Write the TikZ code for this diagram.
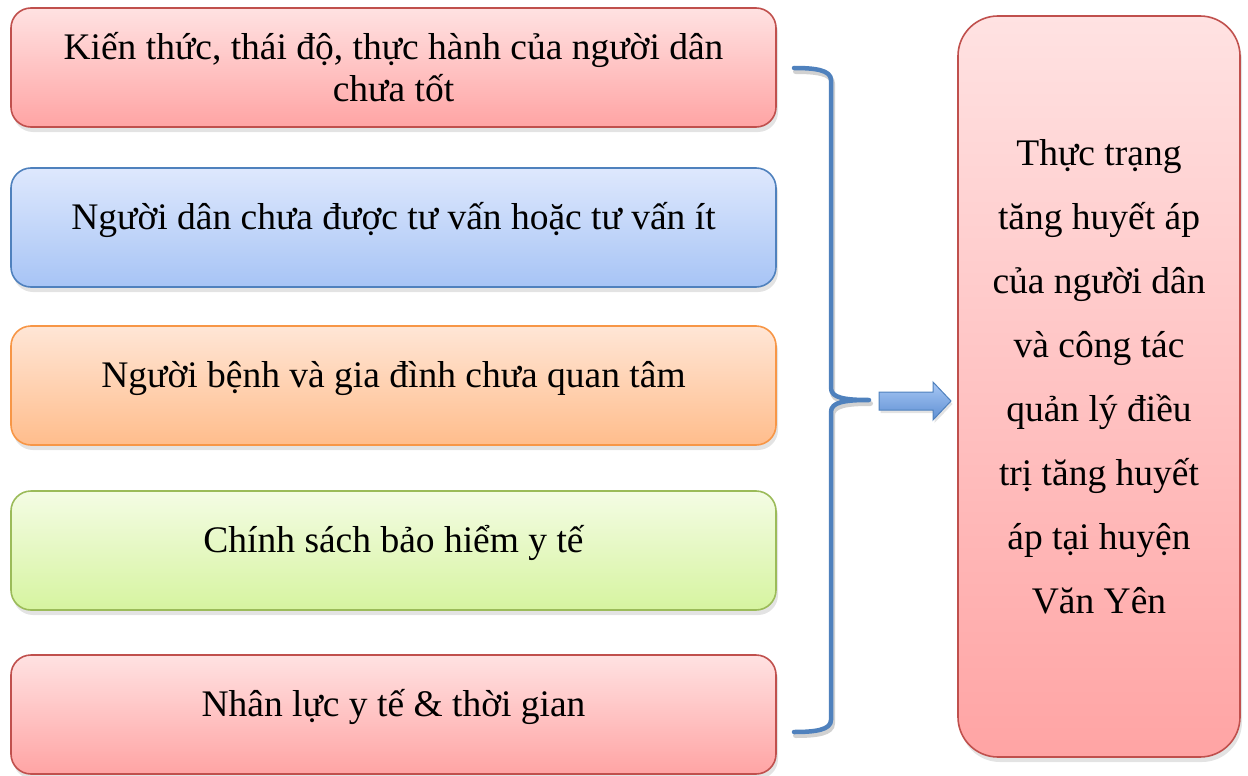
\documentclass[tikz,border=0pt]{standalone}
\usepackage{fontspec}
\setmainfont{Liberation Serif}
\usetikzlibrary{shadows}
\definecolor{redB}{HTML}{C0504D}
\definecolor{redT}{HTML}{FFE2E2}
\definecolor{redM}{HTML}{FFA4A4}
\definecolor{bluB}{HTML}{4F81BD}
\definecolor{bluT}{HTML}{DEE8FD}
\definecolor{bluM}{HTML}{A7C4F5}
\definecolor{oraB}{HTML}{F79646}
\definecolor{oraT}{HTML}{FFE6D6}
\definecolor{oraM}{HTML}{FFBD8C}
\definecolor{greB}{HTML}{9BBB59}
\definecolor{greT}{HTML}{F4FCE4}
\definecolor{greM}{HTML}{D6F4A0}
\definecolor{braceC}{HTML}{4F81BD}
\definecolor{arrT}{HTML}{A9C8F5}
\definecolor{arrB}{HTML}{5E8FD3}
\tikzset{
  x=1pt, y=-1pt,
  lbox/.style={rectangle, rounded corners=20pt, line width=1.6pt,
    minimum width=765pt, minimum height=119pt, align=center,
    font=\fontsize{37.5}{42}\selectfont, text=black,
    drop shadow={opacity=0.22, shadow xshift=2pt, shadow yshift=-5pt}},
  oneline/.style={text height=27pt, text depth=23pt},
  redbox/.style={lbox, draw=redB, top color=redT, bottom color=redM},
  bluebox/.style={lbox, draw=bluB, top color=bluT, bottom color=bluM},
  orabox/.style={lbox, draw=oraB, top color=oraT, bottom color=oraM},
  grebox/.style={lbox, draw=greB, top color=greT, bottom color=greM},
  rbox/.style={rectangle, rounded corners=40pt, line width=1.6pt, draw=redB,
    top color=redT, bottom color=redM,
    minimum width=282pt, minimum height=741pt,
    drop shadow={opacity=0.22, shadow xshift=2pt, shadow yshift=-5pt}},
  rtext/.style={align=center, font=\fontsize{37.5}{64}\selectfont, text=black},
  bracestyle/.style={draw=braceC, line width=4.5pt, line cap=round, line join=round},
  braceshadow/.style={draw=black, opacity=0.18, line width=5pt, line cap=round, line join=round},
  arrowshape/.style={draw=bluB, line width=1pt, top color=arrT, bottom color=arrB,
    drop shadow={opacity=0.22, shadow xshift=1.5pt, shadow yshift=-3pt}}
}
\def\bracepath{(794,68) .. controls (815,68) and (831,70) .. (831,80) -- (831,388)
  .. controls (831,398) and (845,400) .. (869,400)
  .. controls (845,400) and (831,402) .. (831,412) -- (831,720)
  .. controls (831,730) and (815,732) .. (794,732)}
\begin{document}
\begin{tikzpicture}
\useasboundingbox (0,0) rectangle (1248,776);
\node[redbox] (b1) at (393.5,67.5) {Kiến thức, thái độ, thực hành của người dân\\chưa tốt};
\node[bluebox, oneline] (b2) at (393.5,227.5) {Người dân chưa được tư vấn hoặc tư vấn ít};
\node[orabox, oneline] (b3) at (393.5,385.5) {Người bệnh và gia đình chưa quan tâm};
\node[grebox, oneline] (b4) at (393.5,550.5) {Chính sách bảo hiểm y tế};
\node[redbox, oneline] (b5) at (393.5,714.5) {Nhân lực y tế \& thời gian};
\node[rbox] (r) at (1099,386.5) {};
\node[rtext] (rt) at (1099,377) {Thực trạng\\tăng huyết áp\\của người dân\\và công tác\\quản lý điều\\trị tăng huyết\\áp tại huyện\\Văn Yên};
% brace
\begin{scope}[shift={(1.5,3.5)}]
\draw[braceshadow] \bracepath;
\end{scope}
\draw[bracestyle] \bracepath;
\coordinate (tip) at (869,400);
% block arrow
\path[arrowshape] (879,392) -- (933,392) -- (933,382) -- (951,401) -- (933,420) -- (933,410) -- (879,410) -- cycle;
\end{tikzpicture}
\end{document}
